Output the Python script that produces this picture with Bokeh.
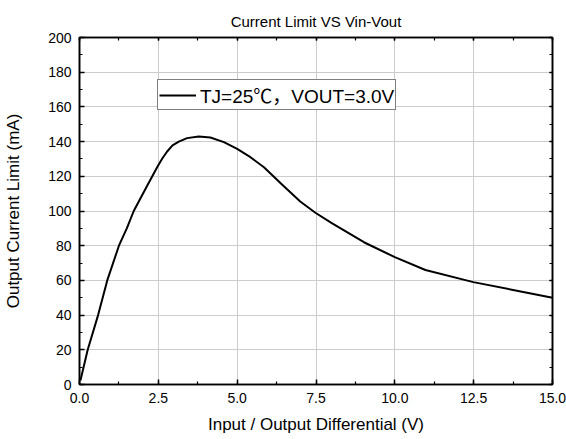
from bokeh.plotting import figure
from bokeh.models import (LinearAxis, Legend, LegendItem, SingleIntervalTicker, Range1d,
                          Title, PrintfTickFormatter)
from bokeh.embed import file_html
from bokeh.resources import INLINE

# Data
vdiff = [0.03, 0.26, 0.59, 0.88, 1.25, 1.5, 1.72, 2.15, 2.48, 2.63, 2.78, 2.95, 3.15, 3.41,
         3.78, 4.15, 4.58, 5.0, 5.42, 5.85, 6.43, 7.0, 7.48, 8.0, 9.02, 10.0, 10.97,
         12.49, 13.75, 15.0]
ilim = [2.3, 20, 40, 60, 80, 90, 100, 114.7, 125.8, 130.4, 134.3, 137.8, 140, 142,
        142.9, 142.4, 139.7, 135.8, 131, 125.2, 115.1, 105.5, 99, 93, 82, 73.4, 66,
        59, 54.5, 50]
legend_label = "TJ=25\u2103\uff0cVOUT=3.0V"
title_text = "Current Limit VS Vin-Vout"
x_label = "Input / Output Differential (V)"
y_label = "Output Current Limit (mA)"

FONT = "Liberation Sans, Arial, sans-serif"
LFONT = "Liberation Sans, Arial, 'Noto Sans CJK SC', sans-serif"

p = figure(width=566, height=439, output_backend="svg", toolbar_location=None,
           x_range=Range1d(0, 15), y_range=Range1d(0, 200),
           min_border_left=79, min_border_right=14, min_border_top=37, min_border_bottom=55,
           x_axis_label=x_label, y_axis_label=y_label)

p.title = Title(text=title_text, align="center", text_font=FONT, text_font_size="15px",
                text_font_style="normal", text_color="black", standoff=15)

p.xaxis.ticker = SingleIntervalTicker(interval=2.5, num_minor_ticks=2)
p.yaxis.ticker = SingleIntervalTicker(interval=20, num_minor_ticks=2)
p.xaxis.formatter = PrintfTickFormatter(format="%.1f")


def style_axis(ax, labels=True):
    ax.axis_line_color = "black"
    ax.axis_line_width = 1.6
    ax.major_tick_in = 5
    ax.major_tick_out = 0
    ax.minor_tick_in = 3
    ax.minor_tick_out = 0
    ax.major_tick_line_color = "black"
    ax.minor_tick_line_color = "black"
    ax.major_tick_line_width = 1.5
    ax.minor_tick_line_width = 1.2
    ax.major_label_text_font = FONT
    ax.major_label_text_font_size = "14px"
    ax.major_label_text_color = "black"
    ax.axis_label_text_font = FONT
    ax.axis_label_text_font_size = "17px"
    ax.axis_label_text_font_style = "normal"
    ax.axis_label_text_color = "black"
    if not labels:
        ax.major_label_text_font_size = "0px"
        ax.major_label_standoff = 0


style_axis(p.xaxis[0])
style_axis(p.yaxis[0])
p.xaxis.major_label_standoff = 8
p.xaxis.axis_label_standoff = 9
p.yaxis.major_label_standoff = 8
p.yaxis.axis_label_standoff = 22

top = LinearAxis(ticker=SingleIntervalTicker(interval=2.5, num_minor_ticks=2))
right = LinearAxis(ticker=SingleIntervalTicker(interval=20, num_minor_ticks=2))
style_axis(top, labels=False)
style_axis(right, labels=False)
top.major_tick_in = 3
right.major_tick_in = 3
p.add_layout(top, "above")
p.add_layout(right, "right")

p.xgrid.grid_line_color = "#cccccc"
p.ygrid.grid_line_color = "#cccccc"
p.xgrid.grid_line_width = 1
p.ygrid.grid_line_width = 1
p.outline_line_color = "black"
p.outline_line_width = 1.5

r = p.line(vdiff, ilim, line_color="black", line_width=2, line_join="round")

legend = Legend(items=[LegendItem(label=legend_label, renderers=[r])],
                location=(78, 274), orientation="vertical")
legend.border_line_color = "black"
legend.border_line_width = 1
legend.background_fill_color = "white"
legend.background_fill_alpha = 1
legend.label_text_font = LFONT
legend.label_text_font_size = "19px"
legend.label_text_color = "black"
legend.glyph_width = 37
legend.glyph_height = 14
legend.padding = 1
legend.margin = 0
legend.spacing = 0
legend.label_standoff = 4
legend.label_height = 14
p.add_layout(legend, "center")

open("out.html", "w").write(file_html(p, INLINE))
